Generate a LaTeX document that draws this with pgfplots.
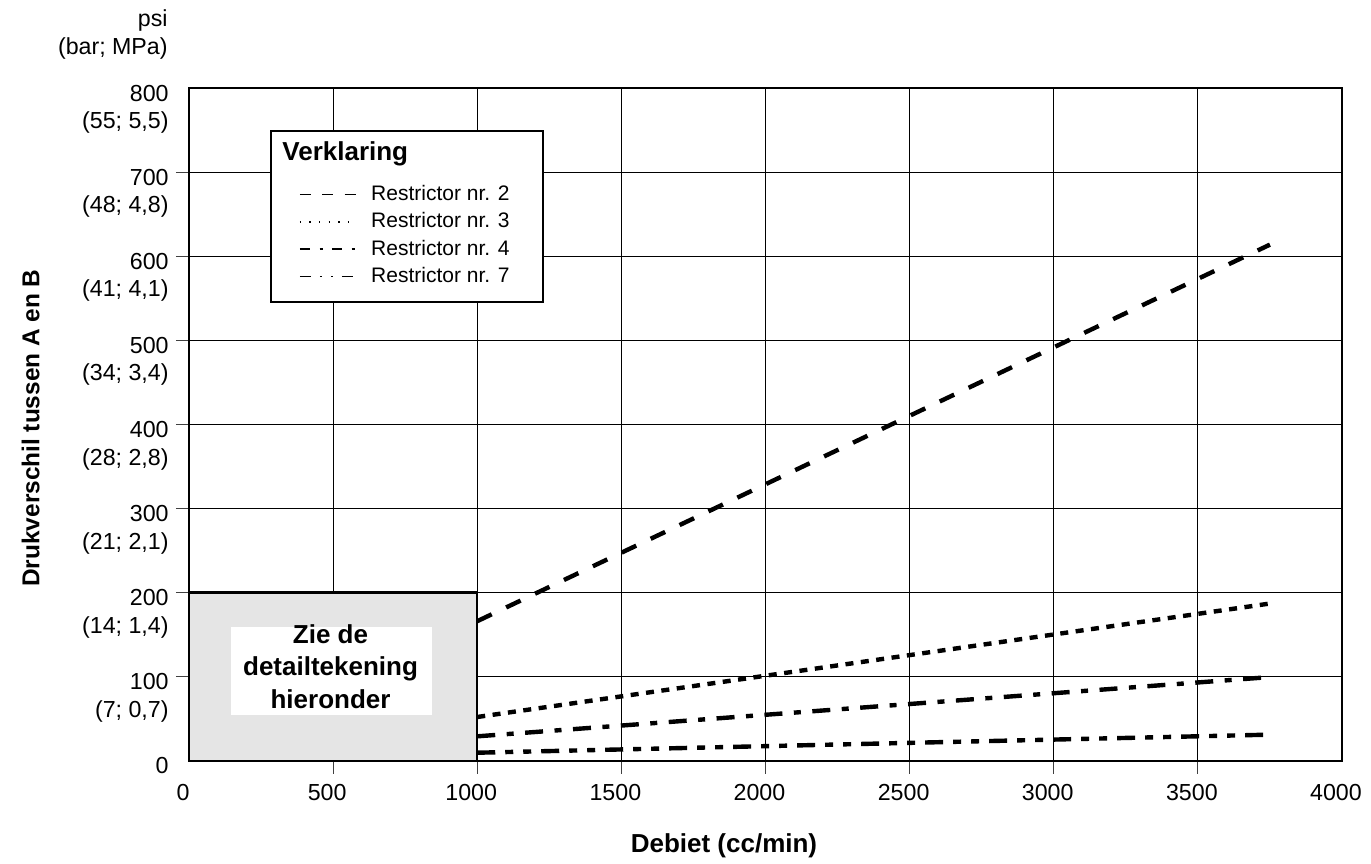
\documentclass[border=0pt]{standalone}
\usepackage{pgfplots}
\pgfplotsset{compat=1.18}
\usepackage{fontspec}
\setmainfont{Liberation Sans}
\newcommand{\tl}[2]{\begin{tabular}[t]{@{}r@{}}#1\\#2\end{tabular}}
\begin{document}
\begin{tikzpicture}
\begin{axis}[
  name=ax,
  scale only axis,
  width=576.5pt, height=336.2pt,
  xmin=0, xmax=4000, ymin=0, ymax=800,
  clip=false,
  tick pos=left,
  xtick={500,1000,...,3500},
  ytick={100,200,...,700},
  yticklabels={{\tl{100}{(7; 0,7)}},{\tl{200}{(14; 1,4)}},{\tl{300}{(21; 2,1)}},{\tl{400}{(28; 2,8)}},{\tl{500}{(34; 3,4)}},{\tl{600}{(41; 4,1)}},{\tl{700}{(48; 4,8)}}},
  extra x ticks={0,4000},
  extra y ticks={0,800},
  extra y tick labels={0,{\tl{800}{(55; 5,5)}}},
  extra x tick style={major tick length=0pt, xticklabel style={yshift=-6.5pt}},
  extra y tick style={major tick length=0pt, yticklabel style={xshift=-6.5pt}},
  grid=major,
  major grid style={line width=0.4pt, black},
  tick align=outside,
  major tick length=6.5pt,
  tick style={line width=0.4pt, black!75},
  axis line style={line width=0.9pt},
  tick label style={font=\fontsize{11.6}{13.75}\selectfont},
  /pgf/number format/assume math mode=true,
  /pgf/number format/1000 sep={},
  xticklabel style={anchor=base, inner sep=0pt, xshift=-3pt, yshift=-13.5pt},
  yticklabel style={anchor=base east, inner sep=0pt, xshift=-3.5pt, yshift=-6.5pt},
  xlabel={Debiet (cc/min)},
  ylabel={Drukverschil tussen A en B},
  xlabel style={at={(axis description cs:0.464,-0.1368)}, anchor=base, inner sep=0pt, font=\bfseries\fontsize{13}{15}\selectfont},
  ylabel style={at={(axis description cs:-0.1297,0.4948)}, anchor=base, inner sep=0pt, font=\bfseries\fontsize{12.2}{14}\selectfont},
  legend cell align=left,
  legend style={draw=none, fill=none, at={(axis description cs:0.0954,0.8554)}, anchor=north west, inner sep=0pt, outer sep=0pt, row sep=4.5pt, column sep=7pt, font=\fontsize{10.5}{12}\selectfont, nodes={inner sep=0pt}},
]
% frame of the legend and title
\draw[line width=1.2pt, fill=white] (axis cs:284.5,545.7) rectangle (axis cs:1228,749);
\node[anchor=base west, inner sep=0pt, font=\bfseries\fontsize{13}{15}\selectfont] at (axis cs:322.6,714.7) {Verklaring};

\addplot[black, line width=2.2pt, dash pattern=on 8pt off 8pt,
  legend image code/.code={\draw[line width=0.8pt, dash pattern=on 5.5pt off 5.7pt] (0pt,0pt) -- (28.3pt,0pt);}]
  coordinates {(1000,166) (3750,614)};
\addlegendentry{Restrictor nr. 2}
\addplot[black, line width=2.2pt, dash pattern=on 4pt off 3.75pt,
  legend image code/.code={\draw[line width=0.8pt, dash pattern=on 0.7pt off 4.1pt] (0pt,0pt) -- (28.3pt,0pt);}]
  coordinates {(1000,52) (3750,187)};
\addlegendentry{Restrictor nr. 3}
\addplot[black, line width=2.2pt, dash pattern=on 9pt off 5.75pt on 3.5pt off 5.75pt,
  legend image code/.code={\draw[line width=0.8pt, dash pattern=on 5.3pt off 4.6pt on 1.5pt off 4.6pt] (0pt,0pt) -- (28.3pt,0pt);}]
  coordinates {(1000,29) (3730,99)};
\addlegendentry{Restrictor nr. 4}
\addplot[black, line width=2.2pt, dash pattern=on 9pt off 5pt on 4pt off 5pt on 4pt off 5pt,
  legend image code/.code={\draw[line width=0.8pt, dash pattern=on 5.7pt off 4.3pt on 1.2pt off 4.3pt on 1.2pt off 4.3pt] (0pt,0pt) -- (28.3pt,0pt);}]
  coordinates {(1000,9.5) (3750,31)};
\addlegendentry{Restrictor nr. 7}

% detail box
\draw[line width=1.2pt, fill=gray!20] (axis cs:0,0) rectangle (axis cs:1000,200);
\fill[white] (axis cs:145.7,54.4) rectangle (axis cs:843,159);
\node[anchor=base, inner sep=0pt, align=center, font=\bfseries\fontsize{13}{16.25}\selectfont] at (axis cs:491,139.5) {\begin{tabular}[t]{@{}c@{}}Zie de\\detailtekening\\hieronder\end{tabular}};

% unit header
\node[anchor=base east, inner sep=0pt, font=\fontsize{11.6}{14}\selectfont] at (axis description cs:-0.0182,1.0916) {\tl{psi}{(bar; MPa)}};
\end{axis}
\path ([shift={(-94.5pt,-51.15pt)}]ax.south west) rectangle ([shift={(591pt,380.35pt)}]ax.south west);
\end{tikzpicture}
\end{document}
